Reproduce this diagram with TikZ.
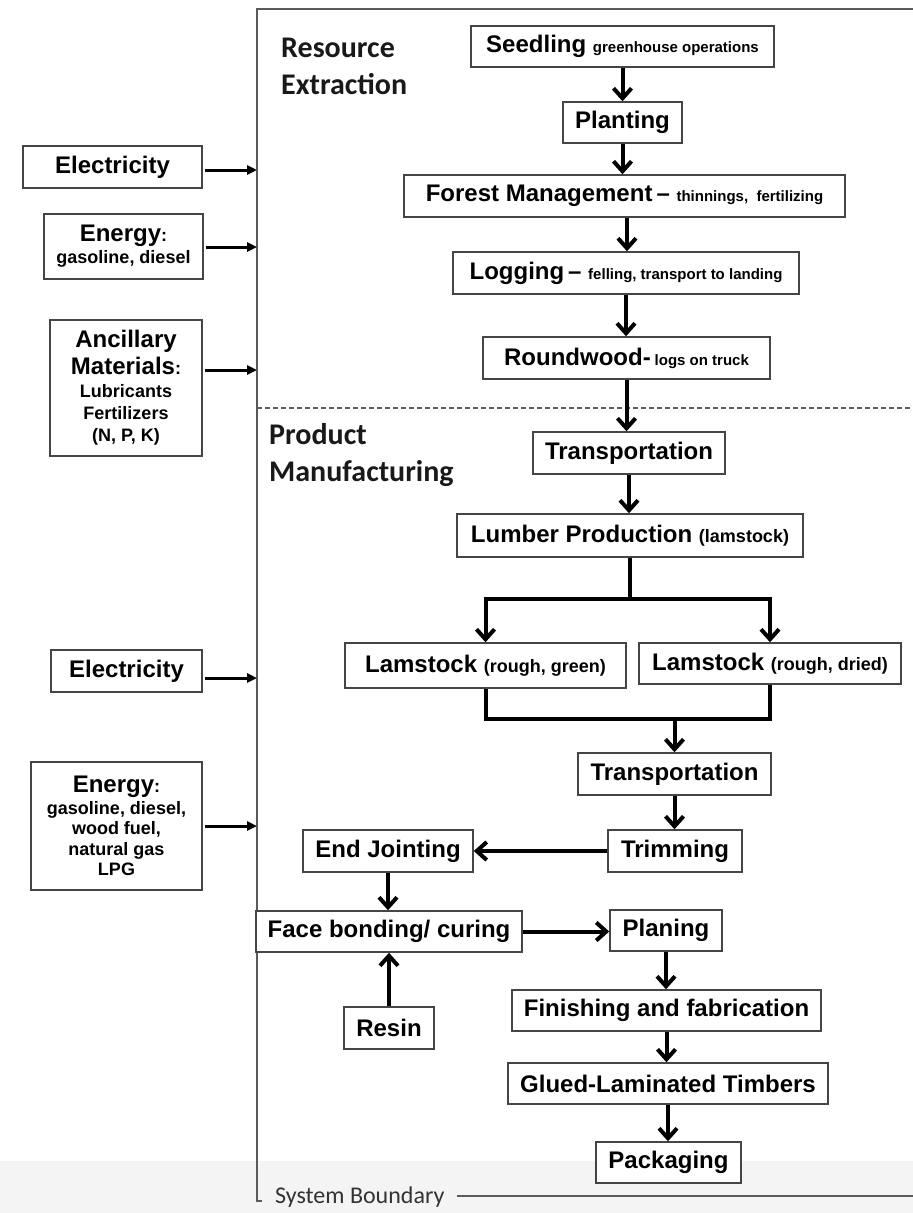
\documentclass[tikz,border=0pt]{standalone}
\usepackage{fontspec}
\setmainfont{Liberation Sans}
\newfontfamily\carlito{Carlito}
\usetikzlibrary{arrows.meta}
\definecolor{boxc}{HTML}{454545}
\definecolor{edgec}{HTML}{5A5A5A}
\definecolor{band}{HTML}{F4F4F4}
\newcommand\bgtxt[1]{{\fontsize{24}{28}\selectfont #1}}
\newcommand\smtxt[1]{{\fontsize{15}{18}\selectfont #1}}
\newcommand\mdtxt[1]{{\fontsize{18}{22}\selectfont #1}}

\begin{document}
\lineskiplimit=-30pt
\begin{tikzpicture}[x=1pt,y=-1pt,
  box/.style={draw=boxc, line width=1.5pt, fill=white, inner sep=0pt, align=center,
    text=black, font=\bfseries\fontsize{24}{28}\selectfont},
  sidebox/.style={box, font=\bfseries\fontsize{18}{22}\selectfont},
  sz/.style 2 args={minimum width=#1pt, minimum height=#2pt},
  flow/.style={line width=4pt, -{Straight Barb[length=10pt,width=18pt]}},
  link/.style={line width=4pt},
  feed/.style={line width=3pt, -{Triangle[length=10pt,width=9pt]}, shorten <=2pt},
  bound/.style={draw=edgec, line width=1.5pt},
  phase/.style={font=\carlito\bfseries\fontsize{30}{37}\selectfont, align=left,
    inner sep=0pt, anchor=north west, text=black!90},
]
\useasboundingbox (0,0) rectangle (913,1213);
\fill[band] (0,1161) rectangle (913,1213);

% system boundary
\draw[bound] (913,9) -- (257,9) -- (257,1201) -- (262,1201);
\node[anchor=base west, inner sep=0pt, text=black!80,
  font=\carlito\fontsize{24}{28}\selectfont] (sysb) at (275,1203) {System Boundary};
\draw[bound] (457,1196) -- (913,1196);
\draw[draw=edgec, line width=1.2pt, dash pattern=on 5pt off 3pt] (257,408) -- (910,408);

% phase labels
\node[phase] (resx) at (281,38) {Resource\\Extraction};
\node[phase] (prodm) at (269,423) {Product\\Manufacturing};

% inputs
\node[box, sz={179}{42}] (elec1) at (112.5,167) {Electricity};
\node[sidebox, sz={159}{65}] (ener1) at (123.5,246.5)
  {\bgtxt{Energy}:\\gasoline, diesel};
\node[sidebox, sz={152}{136}] (anc) at (126,388)
  {\bgtxt{Ancillary}\\[5pt]\bgtxt{Materials}:\\[1pt]Lubricants\\Fertilizers\\(N, P, K)};
\node[box, sz={151}{42}] (elec2) at (126.5,671) {Electricity};
\node[sidebox, sz={171}{128}, font=\bfseries\fontsize{18}{20.5}\selectfont]
  (ener2) at (116.5,826)
  {\bgtxt{Energy}:\\[1pt]gasoline, diesel,\\wood fuel,\\natural gas\\LPG};

\coordinate (in1) at (257,170);
\coordinate (in2) at (257,247);
\coordinate (in3) at (257,370);
\coordinate (in4) at (257,678);
\coordinate (in5) at (257,826);
\draw[feed] (elec1.east |- in1) -- (in1);
\draw[feed] (ener1.east |- in2) -- (in2);
\draw[feed] (anc.east |- in3) -- (in3);
\draw[feed] (elec2.east |- in4) -- (in4);
\draw[feed] (ener2.east |- in5) -- (in5);

% resource extraction chain
\node[box, sz={303}{41}] (seed) at (622.5,46.5) {Seedling \smtxt{greenhouse operations}};
\node[box, sz={119}{41}] (plant) at (622.5,122.5) {Planting};
\node[box, sz={441}{42}] (forest) at (624.5,196)
  {Forest Management\,\textendash\ \smtxt{thinnings,\ \ fertilizing}};
\node[box, sz={346}{42}] (log) at (626,273)
  {Logging\,\textendash\ \smtxt{felling, transport to landing}};
\node[box, sz={287}{42}] (round) at (626.5,358) {Roundwood-\,\smtxt{logs on truck}};

% manufacturing chain
\node[box, sz={192}{42}] (trans1) at (629,453) {Transportation};
\node[box, sz={346}{43}] (lumber) at (630,535.5) {Lumber Production \mdtxt{(lamstock)}};
\node[box, sz={281}{45}] (lamg) at (485.5,665.5) {Lamstock \mdtxt{(rough, green)}};
\node[box, sz={262}{41}] (lamd) at (770,663.5) {Lamstock \mdtxt{(rough, dried)}};
\node[box, sz={193}{42}] (trans2) at (674.5,774) {Transportation};
\node[box, sz={134}{42}] (trim) at (675,851) {Trimming};
\node[box, sz={170}{42}] (endj) at (388,851) {End Jointing};
\node[box, sz={266}{41}] (face) at (389,931.5) {Face bonding/ curing};
\node[box, sz={112}{41}] (plan) at (666,930.5) {Planing};
\node[box, sz={90}{42}] (resin) at (389,1028) {Resin};
\node[box, sz={309}{41}] (finish) at (666.5,1010.5) {Finishing and fabrication};
\node[box, sz={320}{41}] (glued) at (668,1083.5) {Glued-Laminated Timbers};
\node[box, sz={145}{41}] (pack) at (668.5,1162.5) {Packaging};

% flows
\draw[flow] (seed.south) -- (seed.south |- plant.north);
\draw[flow] (plant.south) -- (plant.south |- forest.north);
\draw[flow] (forest.south -| 627,0) -- (627,0 |- log.north);
\draw[flow] (log.south) -- (log.south |- round.north);
\draw[flow] (round.south) -- (round.south |- trans1.north);
\draw[flow] (trans1.south) -- (trans1.south |- lumber.north);

\coordinate (split) at (630,599);
\draw[link] (lumber.south) -- (split);
\draw[flow] (split) -| (lamg.north);
\draw[flow] (split) -| (lamd.north);

\coordinate (merge) at (674.5,719);
\draw[link] (lamg.south) |- (merge) -| (lamd.south);
\draw[flow] (merge) -- (trans2.north);

\draw[flow] (trans2.south) -- (trans2.south |- trim.north);
\draw[flow] (trim.west) -- (endj.east);
\draw[flow] (endj.south) -- (endj.south |- face.north);
\draw[flow] (resin.north) -- (resin.north |- face.south);
\draw[flow] (face.east) -- (face.east -| plan.west);
\draw[flow] (plan.south) -- (plan.south |- finish.north);
\draw[flow] (finish.south) -- (finish.south |- glued.north);
\draw[flow] (glued.south) -- (glued.south |- pack.north);
\end{tikzpicture}
\end{document}
